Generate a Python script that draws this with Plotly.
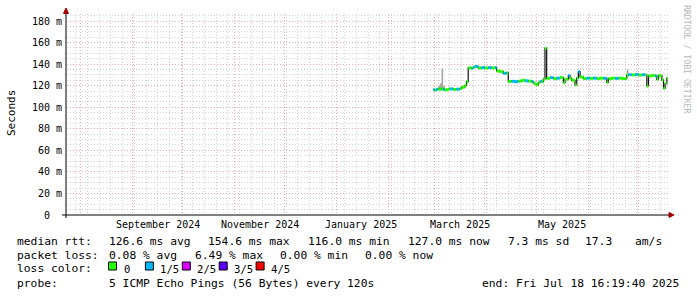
import plotly.graph_objects as go
import pandas as pd

# ---------------- data ----------------
start_time = "2024-07-23 16:19:40"
end_time = "2025-07-18 16:19:40"

dates = [
    "2025-02-28", "2025-03-01", "2025-03-02", "2025-03-03", "2025-03-04", "2025-03-05",
    "2025-03-06", "2025-03-07", "2025-03-09", "2025-03-10", "2025-03-12", "2025-03-14",
    "2025-03-16", "2025-03-17", "2025-03-19", "2025-03-20", "2025-03-21", "2025-03-23",
    "2025-03-24", "2025-03-25", "2025-03-27", "2025-03-29", "2025-03-31", "2025-04-02",
    "2025-04-04", "2025-04-06", "2025-04-07", "2025-04-09", "2025-04-11", "2025-04-13",
    "2025-04-14", "2025-04-16", "2025-04-18", "2025-04-20", "2025-04-22", "2025-04-24",
    "2025-04-26", "2025-04-28", "2025-04-29", "2025-04-30", "2025-05-01", "2025-05-02",
    "2025-05-03", "2025-05-04", "2025-05-05", "2025-05-06", "2025-05-07", "2025-05-09",
    "2025-05-11", "2025-05-13", "2025-05-15", "2025-05-17", "2025-05-18", "2025-05-20",
    "2025-05-21", "2025-05-22", "2025-05-24", "2025-05-25", "2025-05-26", "2025-05-27",
    "2025-05-29", "2025-05-31", "2025-06-02", "2025-06-04", "2025-06-06", "2025-06-08",
    "2025-06-10", "2025-06-12", "2025-06-13", "2025-06-15", "2025-06-17", "2025-06-19",
    "2025-06-21", "2025-06-24", "2025-06-25", "2025-06-27", "2025-06-29", "2025-07-01",
    "2025-07-03", "2025-07-05", "2025-07-06", "2025-07-07", "2025-07-09", "2025-07-11",
    "2025-07-12", "2025-07-13", "2025-07-15", "2025-07-16", "2025-07-17", "2025-07-18",
]
median_ms = [
    116.3, 116.0, 116.6, 117.0, 116.5, 117.2,
    116.4, 116.2, 116.8, 117.0, 116.5, 116.8,
    117.2, 118.6, 120.0, 123.7, 136.5, 136.2,
    137.0, 137.8, 136.5, 136.8, 136.4, 136.7,
    136.5, 136.8, 133.6, 133.0, 131.5, 131.8,
    123.9, 124.0, 123.7, 124.2, 125.0, 124.5,
    124.2, 123.8, 122.5, 121.3, 120.8, 122.8,
    124.0, 123.7, 126.0, 154.6, 126.8, 127.5,
    126.5, 127.0, 127.5, 122.7, 126.0, 129.3,
    127.0, 125.0, 120.6, 127.0, 133.0, 128.0,
    126.5, 127.0, 126.8, 127.0, 126.5, 127.0,
    126.8, 123.1, 126.5, 127.0, 126.8, 127.0,
    126.6, 129.9, 130.2, 130.0, 130.4, 129.8,
    130.2, 130.0, 119.7, 129.0, 129.5, 129.0,
    125.9, 129.3, 125.3, 117.6, 122.0, 127.0,
]
loss_fifths = [
    1, 0, 1, 0, 0, 0,
    1, 0, 0, 1, 0, 1,
    0, 0, 0, 0, 0, 1,
    0, 1, 0, 1, 0, 1,
    0, 1, 0, 0, 1, 0,
    0, 1, 1, 0, 0, 1,
    0, 1, 0, 0, 0, 0,
    1, 0, 0, 0, 0, 1,
    0, 1, 0, 0, 0, 1,
    0, 0, 0, 0, 1, 0,
    0, 1, 0, 1, 0, 0,
    1, 0, 0, 0, 1, 0,
    0, 0, 1, 0, 1, 0,
    1, 0, 0, 0, 0, 1,
    0, 0, 0, 0, 0, 0,
]
# upper edge of the "smoke" (spread of the individual pings), None = no visible smoke
smoke_hi_ms = [None] * len(dates)
smoke_hi_ms[dates.index("2025-03-03")] = 119.5
smoke_hi_ms[dates.index("2025-03-04")] = 122.0
smoke_hi_ms[dates.index("2025-03-05")] = 136.0
smoke_hi_ms[dates.index("2025-03-06")] = 120.0
smoke_hi_ms[dates.index("2025-06-24")] = 135.0

loss_labels = ["0", "1/5", "2/5", "3/5", "4/5"]
loss_colors = ["#26ff00", "#00b8ff", "#dd00ff", "#5e00ff", "#ff0000"]

y_tick_vals = [0, 20, 40, 60, 80, 100, 120, 140, 160, 180]
y_tick_text = ["0\u00a0\u00a0", "20 m", "40 m", "60 m", "80 m", "100 m", "120 m", "140 m", "160 m", "180 m"]

label_months = ["2024-09-01", "2024-11-01", "2025-01-01", "2025-03-01", "2025-05-01"]
label_texts = ["September 2024", "November 2024", "January 2025", "March 2025", "May 2025"]

median_items = ["126.6 ms avg", "154.6 ms max", "116.0 ms min", "127.0 ms now", "7.3 ms sd", "17.3", "am/s"]
loss_items = ["0.08 % avg", "6.49 % max", "0.00 % min", "0.00 % now"]
probe_text = "5 ICMP Echo Pings (56 Bytes) every 120s"
end_text = "end: Fri Jul 18 16:19:40 2025"
y_max = 186.5

# ---------------- layout constants (pixels) ----------------
W, H = 697, 297
PL, PR, PT, PB = 67, 668, 14, 215
MONO = "DejaVu Sans Mono"


def px(x):
    return (x - PL) / (PR - PL)


def py(y):
    return (PB - y) / (PB - PT)


def nb(s):
    return s.replace(" ", "\u00a0")


fig = go.Figure()

# smoke
smoke_top = [s if s is not None else m for s, m in zip(smoke_hi_ms, median_ms)]
xs_full = dates + [end_time]
fig.add_trace(go.Scatter(x=xs_full, y=median_ms + [median_ms[-1]], mode="lines",
                         line=dict(width=0, shape="hv"), hoverinfo="skip", showlegend=False))
fig.add_trace(go.Scatter(x=xs_full, y=smoke_top + [smoke_top[-1]], mode="lines",
                         line=dict(width=0, shape="hv"), fill="tonexty",
                         fillcolor="#a6a6a6", hoverinfo="skip", showlegend=False))

# dark median line
fig.add_trace(go.Scatter(x=xs_full, y=median_ms + [median_ms[-1]], mode="lines",
                         line=dict(width=1.2, color="#141414", shape="hv"),
                         hoverinfo="skip", showlegend=False))

# loss-coloured median bands
for k, col in enumerate(loss_colors):
    bx, by = [], []
    for i, d in enumerate(dates):
        if loss_fifths[i] != k:
            continue
        d_next = dates[i + 1] if i + 1 < len(dates) else end_time
        bx += [d, d_next, None]
        by += [median_ms[i], median_ms[i], None]
    if bx:
        fig.add_trace(go.Scatter(x=bx, y=by, mode="lines", line=dict(width=3, color=col),
                                 hoverinfo="skip", showlegend=False))

month_starts = list(pd.date_range("2024-08-01", "2025-07-01", freq="MS"))

MAJ = "#eaaaaa"
MIN = "#d2d2d2"
fig.update_layout(
    width=W, height=H,
    margin=dict(l=PL, r=W - PR, t=PT, b=H - PB),
    paper_bgcolor="white", plot_bgcolor="white",
    showlegend=False,
    xaxis=dict(
        type="date", range=[start_time, end_time],
        tickmode="array", tickvals=month_starts, showticklabels=False, ticks="",
        showgrid=True, gridcolor=MAJ, gridwidth=1, griddash="1px,2px",
        minor=dict(tick0="2024-07-22", dtick=7 * 86400000, showgrid=True,
                   gridcolor=MIN, griddash="1px,2px", gridwidth=1),
        showline=False, zeroline=False, fixedrange=True,
    ),
    yaxis=dict(
        range=[0, y_max], tickmode="array", tickvals=y_tick_vals, ticktext=y_tick_text,
        tickfont=dict(family=MONO, size=10, color="black"), ticks="",
        ticklabelstandoff=4,
        showgrid=True, gridcolor=MAJ, gridwidth=1, griddash="1px,2px",
        minor=dict(dtick=5, showgrid=True, gridcolor=MIN, griddash="1px,2px", gridwidth=1),
        showline=False, zeroline=False, fixedrange=True,
    ),
)

shapes = []
# axes
shapes.append(dict(type="line", xref="paper", yref="paper", x0=px(66), x1=px(66), y0=py(218), y1=py(12),
                   line=dict(color="black", width=1)))
shapes.append(dict(type="line", xref="paper", yref="paper", x0=px(62), x1=px(670), y0=py(215), y1=py(215),
                   line=dict(color="black", width=1)))
# arrow heads
shapes.append(dict(type="path", xref="paper", yref="paper",
                   path=f"M {px(63.5)} {py(13.5)} L {px(68.5)} {py(13.5)} L {px(66)} {py(8)} Z",
                   fillcolor="#a00000", line=dict(color="#a00000", width=1)))
shapes.append(dict(type="path", xref="paper", yref="paper",
                   path=f"M {px(669)} {py(212.5)} L {px(669)} {py(217.5)} L {px(674)} {py(215)} Z",
                   fillcolor="#a00000", line=dict(color="#a00000", width=1)))

annotations = []
# x labels centred half a month after the month start
for m, t in zip(label_months, label_texts):
    xc = pd.Timestamp(m) + pd.Timedelta(days=15)
    annotations.append(dict(x=xc, xref="x", y=py(224.5), yref="paper", text=t, showarrow=False,
                            font=dict(family=MONO, size=10, color="black"),
                            xanchor="center", yanchor="middle"))

# y title
annotations.append(dict(x=px(11), y=py(113), xref="paper", yref="paper", text="Seconds",
                        textangle=-90, showarrow=False, font=dict(family=MONO, size=11, color="black"),
                        xanchor="center", yanchor="middle"))
# watermark
annotations.append(dict(x=px(687), y=py(59), xref="paper", yref="paper", text=nb("RRDTOOL / TOBI OETIKER"),
                        textangle=90, showarrow=False, font=dict(family=MONO, size=8.2, color="#b8b8b8"),
                        xanchor="center", yanchor="middle"))

LF = dict(family=MONO, size=11.3, color="black")


def txt(x, y, s, anchor="left", font=LF):
    annotations.append(dict(x=px(x), y=py(y), xref="paper", yref="paper", text=nb(s), showarrow=False,
                            font=font, xanchor=anchor, yanchor="middle", borderpad=0))


# legend rows
txt(16, 241, "median rtt:")
for s, x in zip(median_items, [107.6, 207, 306.7, 407, 506.7, 584, 634]):
    txt(x, 241, s)
txt(16, 255, "packet loss:")
for s, x in zip(loss_items, [107.6, 193.8, 279, 364.4]):
    txt(x, 255, s)
txt(16, 268.5, "loss color:")
LF_SMALL = dict(family=MONO, size=10.6, color="black")
for i, (lab, col) in enumerate(zip(loss_labels, loss_colors)):
    bx0 = 108.5 + 36.9 * i
    shapes.append(dict(type="rect", xref="paper", yref="paper", x0=px(bx0), x1=px(bx0 + 8),
                       y0=py(270), y1=py(262), fillcolor=col, line=dict(color="black", width=1)))
    txt(bx0 + 14, 268.5, lab, font=LF_SMALL)
txt(16, 283, "probe:")
txt(107.6, 283, probe_text)
txt(680, 283, end_text, anchor="right")

fig.update_layout(shapes=shapes, annotations=annotations)
fig.write_html("out.html")
